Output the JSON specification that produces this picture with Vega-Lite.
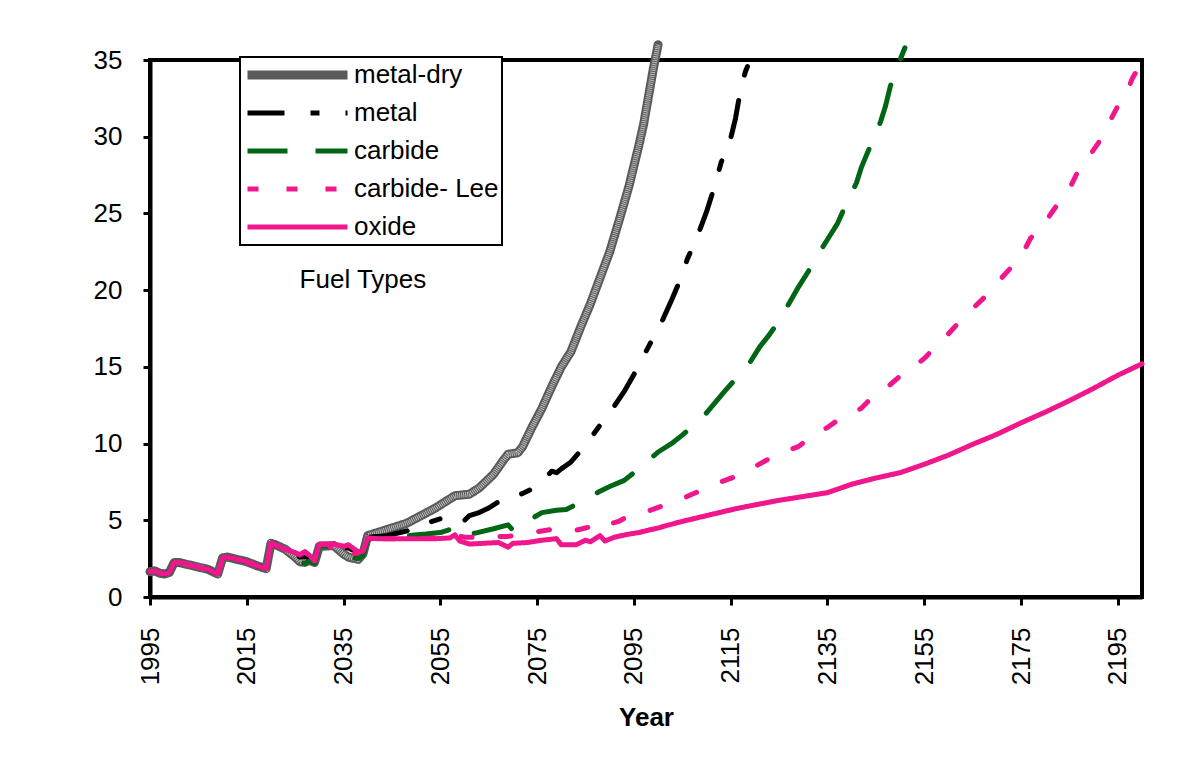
{
  "$schema": "https://vega.github.io/schema/vega-lite/v6.json",
  "width": 992,
  "height": 537,
  "autosize": "none",
  "padding": {"left": 150, "top": 60, "right": 46, "bottom": 173},
  "background": "white",
  "config": {
    "view": {"stroke": "black", "strokeWidth": 4},
    "font": "Liberation Sans",
    "legend": {
      "orient": "none",
      "legendX": 90,
      "legendY": -3,
      "title": null,
      "symbolType": "stroke",
      "symbolSize": 10000,
      "clipHeight": 30,
      "rowPadding": 8,
      "labelFontSize": 26,
      "labelFont": "Liberation Sans",
      "labelColor": "black",
      "labelOffset": 2,
      "padding": 3,
      "strokeColor": "black",
      "strokeWidth": 2,
      "fillColor": "white"
    }
  },
  "data": {"values": [
    {"s":"metal-dry","x":1995,"y":1.65},{"s":"metal-dry","x":1996,"y":1.7},{"s":"metal-dry","x":1997,"y":1.55},{"s":"metal-dry","x":1998,"y":1.5},{"s":"metal-dry","x":1999,"y":1.6},{"s":"metal-dry","x":2000,"y":2.25},{"s":"metal-dry","x":2001,"y":2.25},{"s":"metal-dry","x":2003,"y":2.1},{"s":"metal-dry","x":2005,"y":1.95},{"s":"metal-dry","x":2007,"y":1.8},{"s":"metal-dry","x":2009,"y":1.5},{"s":"metal-dry","x":2010,"y":2.55},{"s":"metal-dry","x":2011,"y":2.6},{"s":"metal-dry","x":2013,"y":2.45},{"s":"metal-dry","x":2015,"y":2.3},{"s":"metal-dry","x":2017,"y":2.05},{"s":"metal-dry","x":2019,"y":1.85},{"s":"metal-dry","x":2020,"y":3.5},{"s":"metal-dry","x":2021,"y":3.4},{"s":"metal-dry","x":2023,"y":3.1},
    {"s":"metal-dry","x":2025,"y":2.6},{"s":"metal-dry","x":2026,"y":2.3},{"s":"metal-dry","x":2027,"y":2.25},{"s":"metal-dry","x":2028,"y":2.4},{"s":"metal-dry","x":2029,"y":2.25},{"s":"metal-dry","x":2030,"y":3.3},{"s":"metal-dry","x":2033,"y":3.35},{"s":"metal-dry","x":2035,"y":2.8},{"s":"metal-dry","x":2036,"y":2.6},{"s":"metal-dry","x":2038,"y":2.45},{"s":"metal-dry","x":2039,"y":2.8},{"s":"metal-dry","x":2040,"y":4.0},
    {"s":"metal-dry","x":2042,"y":4.2},{"s":"metal-dry","x":2045,"y":4.5},{"s":"metal-dry","x":2048,"y":4.8},{"s":"metal-dry","x":2051,"y":5.3},{"s":"metal-dry","x":2054,"y":5.8},{"s":"metal-dry","x":2056,"y":6.2},{"s":"metal-dry","x":2058,"y":6.6},{"s":"metal-dry","x":2061,"y":6.7},{"s":"metal-dry","x":2063,"y":7.1},{"s":"metal-dry","x":2066,"y":8.0},{"s":"metal-dry","x":2068,"y":8.9},{"s":"metal-dry","x":2069,"y":9.3},{"s":"metal-dry","x":2071,"y":9.4},{"s":"metal-dry","x":2072,"y":9.8},{"s":"metal-dry","x":2074,"y":11.1},{"s":"metal-dry","x":2076,"y":12.3},{"s":"metal-dry","x":2078,"y":13.7},{"s":"metal-dry","x":2080,"y":15.0},{"s":"metal-dry","x":2082,"y":16.0},{"s":"metal-dry","x":2084,"y":17.6},{"s":"metal-dry","x":2086,"y":19.1},{"s":"metal-dry","x":2088,"y":20.8},{"s":"metal-dry","x":2090,"y":22.5},{"s":"metal-dry","x":2092,"y":24.6},{"s":"metal-dry","x":2094,"y":26.8},{"s":"metal-dry","x":2096,"y":29.4},{"s":"metal-dry","x":2097,"y":30.8},{"s":"metal-dry","x":2098,"y":32.6},{"s":"metal-dry","x":2099,"y":34.4},{"s":"metal-dry","x":2100,"y":36.0},

    {"s":"metal","x":1995,"y":1.65},{"s":"metal","x":1996,"y":1.7},{"s":"metal","x":1997,"y":1.55},{"s":"metal","x":1998,"y":1.5},{"s":"metal","x":1999,"y":1.6},{"s":"metal","x":2000,"y":2.25},{"s":"metal","x":2001,"y":2.25},{"s":"metal","x":2003,"y":2.1},{"s":"metal","x":2005,"y":1.95},{"s":"metal","x":2007,"y":1.8},{"s":"metal","x":2009,"y":1.5},{"s":"metal","x":2010,"y":2.55},{"s":"metal","x":2011,"y":2.6},{"s":"metal","x":2013,"y":2.45},{"s":"metal","x":2015,"y":2.3},{"s":"metal","x":2017,"y":2.05},{"s":"metal","x":2019,"y":1.85},{"s":"metal","x":2020,"y":3.5},{"s":"metal","x":2021,"y":3.4},{"s":"metal","x":2023,"y":3.1},
    {"s":"metal","x":2025,"y":2.8},{"s":"metal","x":2026,"y":2.6},{"s":"metal","x":2027,"y":2.7},{"s":"metal","x":2028,"y":2.5},{"s":"metal","x":2029,"y":2.3},{"s":"metal","x":2030,"y":3.4},{"s":"metal","x":2033,"y":3.4},{"s":"metal","x":2035,"y":3.2},{"s":"metal","x":2036,"y":3.2},{"s":"metal","x":2038,"y":2.9},{"s":"metal","x":2039,"y":3.0},{"s":"metal","x":2040,"y":3.9},
    {"s":"metal","x":2044,"y":4.0},{"s":"metal","x":2048,"y":4.3},{"s":"metal","x":2051,"y":4.6},{"s":"metal","x":2053,"y":4.9},{"s":"metal","x":2055,"y":5.1},{"s":"metal","x":2058,"y":5.2},{"s":"metal","x":2059,"y":5.0},{"s":"metal","x":2060,"y":5.0},{"s":"metal","x":2061,"y":5.3},{"s":"metal","x":2063,"y":5.5},{"s":"metal","x":2065,"y":5.8},{"s":"metal","x":2067,"y":6.2},{"s":"metal","x":2070,"y":6.5},{"s":"metal","x":2072,"y":6.75},{"s":"metal","x":2074,"y":7.05},{"s":"metal","x":2076,"y":7.5},{"s":"metal","x":2078,"y":8.2},{"s":"metal","x":2079,"y":8.1},{"s":"metal","x":2080,"y":8.35},{"s":"metal","x":2082,"y":8.8},{"s":"metal","x":2085,"y":9.9},{"s":"metal","x":2088,"y":11.2},{"s":"metal","x":2090,"y":12.0},{"s":"metal","x":2093,"y":13.4},{"s":"metal","x":2095,"y":14.5},{"s":"metal","x":2097,"y":15.7},{"s":"metal","x":2099,"y":16.9},{"s":"metal","x":2101,"y":18.1},{"s":"metal","x":2103,"y":19.5},{"s":"metal","x":2105,"y":21.0},{"s":"metal","x":2106,"y":22.0},{"s":"metal","x":2108,"y":23.4},{"s":"metal","x":2110,"y":25.1},{"s":"metal","x":2112,"y":27.1},{"s":"metal","x":2113,"y":28.3},{"s":"metal","x":2115,"y":29.9},{"s":"metal","x":2116,"y":31.2},{"s":"metal","x":2117,"y":33.0},{"s":"metal","x":2118,"y":34.2},{"s":"metal","x":2119,"y":35.0},{"s":"metal","x":2120,"y":35.8},

    {"s":"carbide","x":1995,"y":1.65},{"s":"carbide","x":1996,"y":1.7},{"s":"carbide","x":1997,"y":1.55},{"s":"carbide","x":1998,"y":1.5},{"s":"carbide","x":1999,"y":1.6},{"s":"carbide","x":2000,"y":2.25},{"s":"carbide","x":2001,"y":2.25},{"s":"carbide","x":2003,"y":2.1},{"s":"carbide","x":2005,"y":1.95},{"s":"carbide","x":2007,"y":1.8},{"s":"carbide","x":2009,"y":1.5},{"s":"carbide","x":2010,"y":2.55},{"s":"carbide","x":2011,"y":2.6},{"s":"carbide","x":2013,"y":2.45},{"s":"carbide","x":2015,"y":2.3},{"s":"carbide","x":2017,"y":2.05},{"s":"carbide","x":2019,"y":1.85},{"s":"carbide","x":2020,"y":3.5},{"s":"carbide","x":2021,"y":3.4},{"s":"carbide","x":2023,"y":3.1},
    {"s":"carbide","x":2025,"y":2.5},{"s":"carbide","x":2026,"y":2.25},{"s":"carbide","x":2027,"y":2.2},{"s":"carbide","x":2028,"y":2.35},{"s":"carbide","x":2029,"y":2.2},{"s":"carbide","x":2030,"y":3.3},{"s":"carbide","x":2032,"y":3.3},{"s":"carbide","x":2033,"y":3.1},{"s":"carbide","x":2035,"y":2.7},{"s":"carbide","x":2036,"y":2.6},{"s":"carbide","x":2038,"y":2.5},{"s":"carbide","x":2039,"y":2.7},{"s":"carbide","x":2040,"y":3.8},
    {"s":"carbide","x":2044,"y":3.85},{"s":"carbide","x":2048,"y":4.0},{"s":"carbide","x":2052,"y":4.1},{"s":"carbide","x":2055,"y":4.2},{"s":"carbide","x":2057,"y":4.4},{"s":"carbide","x":2059,"y":4.55},{"s":"carbide","x":2060,"y":4.2},{"s":"carbide","x":2062,"y":4.15},{"s":"carbide","x":2066,"y":4.45},{"s":"carbide","x":2069,"y":4.7},{"s":"carbide","x":2070,"y":4.35},{"s":"carbide","x":2073,"y":4.95},{"s":"carbide","x":2076,"y":5.5},{"s":"carbide","x":2079,"y":5.65},{"s":"carbide","x":2081,"y":5.7},{"s":"carbide","x":2085,"y":6.35},{"s":"carbide","x":2088,"y":6.9},{"s":"carbide","x":2090,"y":7.2},{"s":"carbide","x":2093,"y":7.6},{"s":"carbide","x":2096,"y":8.35},{"s":"carbide","x":2098,"y":8.9},{"s":"carbide","x":2100,"y":9.45},{"s":"carbide","x":2103,"y":10.05},{"s":"carbide","x":2105,"y":10.55},{"s":"carbide","x":2108,"y":11.4},{"s":"carbide","x":2110,"y":12.0},{"s":"carbide","x":2112,"y":12.75},{"s":"carbide","x":2114,"y":13.5},{"s":"carbide","x":2116,"y":14.2},{"s":"carbide","x":2119,"y":15.3},{"s":"carbide","x":2121,"y":16.3},{"s":"carbide","x":2123,"y":17.1},{"s":"carbide","x":2125,"y":18.0},{"s":"carbide","x":2127,"y":19.1},{"s":"carbide","x":2129,"y":20.2},{"s":"carbide","x":2131,"y":21.2},{"s":"carbide","x":2133,"y":22.3},{"s":"carbide","x":2135,"y":23.3},{"s":"carbide","x":2137,"y":24.3},{"s":"carbide","x":2139,"y":25.7},{"s":"carbide","x":2141,"y":27.0},{"s":"carbide","x":2142,"y":28.0},{"s":"carbide","x":2144,"y":29.5},{"s":"carbide","x":2146,"y":31.0},{"s":"carbide","x":2147,"y":32.0},{"s":"carbide","x":2148,"y":33.3},{"s":"carbide","x":2150,"y":35.0},{"s":"carbide","x":2151,"y":35.8},

    {"s":"carbide- Lee","x":1995,"y":1.65},{"s":"carbide- Lee","x":1996,"y":1.7},{"s":"carbide- Lee","x":1997,"y":1.55},{"s":"carbide- Lee","x":1998,"y":1.5},{"s":"carbide- Lee","x":1999,"y":1.6},{"s":"carbide- Lee","x":2000,"y":2.25},{"s":"carbide- Lee","x":2001,"y":2.25},{"s":"carbide- Lee","x":2003,"y":2.1},{"s":"carbide- Lee","x":2005,"y":1.95},{"s":"carbide- Lee","x":2007,"y":1.8},{"s":"carbide- Lee","x":2009,"y":1.5},{"s":"carbide- Lee","x":2010,"y":2.55},{"s":"carbide- Lee","x":2011,"y":2.6},{"s":"carbide- Lee","x":2013,"y":2.45},{"s":"carbide- Lee","x":2015,"y":2.3},{"s":"carbide- Lee","x":2017,"y":2.05},{"s":"carbide- Lee","x":2019,"y":1.85},{"s":"carbide- Lee","x":2020,"y":3.5},{"s":"carbide- Lee","x":2021,"y":3.4},{"s":"carbide- Lee","x":2023,"y":3.1},
    {"s":"carbide- Lee","x":2025,"y":2.9},{"s":"carbide- Lee","x":2026,"y":2.75},{"s":"carbide- Lee","x":2027,"y":2.95},{"s":"carbide- Lee","x":2028,"y":2.7},{"s":"carbide- Lee","x":2029,"y":2.35},{"s":"carbide- Lee","x":2030,"y":3.45},{"s":"carbide- Lee","x":2032,"y":3.4},{"s":"carbide- Lee","x":2033,"y":2.9},{"s":"carbide- Lee","x":2035,"y":2.65},{"s":"carbide- Lee","x":2036,"y":2.75},{"s":"carbide- Lee","x":2038,"y":2.9},{"s":"carbide- Lee","x":2039,"y":3.0},{"s":"carbide- Lee","x":2040,"y":3.85},
    {"s":"carbide- Lee","x":2042,"y":3.8},{"s":"carbide- Lee","x":2046,"y":3.8},{"s":"carbide- Lee","x":2050,"y":3.8},{"s":"carbide- Lee","x":2054,"y":3.85},{"s":"carbide- Lee","x":2057,"y":3.9},{"s":"carbide- Lee","x":2058,"y":4.05},{"s":"carbide- Lee","x":2060,"y":3.9},{"s":"carbide- Lee","x":2063,"y":3.9},{"s":"carbide- Lee","x":2066,"y":3.95},{"s":"carbide- Lee","x":2069,"y":3.95},{"s":"carbide- Lee","x":2071,"y":4.05},{"s":"carbide- Lee","x":2074,"y":4.2},{"s":"carbide- Lee","x":2076,"y":4.3},{"s":"carbide- Lee","x":2079,"y":4.45},{"s":"carbide- Lee","x":2081,"y":4.3},{"s":"carbide- Lee","x":2083,"y":4.35},{"s":"carbide- Lee","x":2085,"y":4.5},{"s":"carbide- Lee","x":2087,"y":4.65},{"s":"carbide- Lee","x":2089,"y":4.95},{"s":"carbide- Lee","x":2090,"y":4.75},{"s":"carbide- Lee","x":2092,"y":4.95},{"s":"carbide- Lee","x":2094,"y":5.3},{"s":"carbide- Lee","x":2096,"y":5.5},{"s":"carbide- Lee","x":2098,"y":5.6},{"s":"carbide- Lee","x":2101,"y":5.95},{"s":"carbide- Lee","x":2103,"y":6.25},{"s":"carbide- Lee","x":2105,"y":6.4},{"s":"carbide- Lee","x":2107,"y":6.7},{"s":"carbide- Lee","x":2109,"y":6.95},{"s":"carbide- Lee","x":2111,"y":7.25},{"s":"carbide- Lee","x":2113,"y":7.5},{"s":"carbide- Lee","x":2116,"y":7.85},{"s":"carbide- Lee","x":2118,"y":8.15},{"s":"carbide- Lee","x":2120,"y":8.5},{"s":"carbide- Lee","x":2122,"y":8.85},{"s":"carbide- Lee","x":2124,"y":9.2},{"s":"carbide- Lee","x":2126,"y":9.45},{"s":"carbide- Lee","x":2129,"y":9.8},{"s":"carbide- Lee","x":2131,"y":10.3},{"s":"carbide- Lee","x":2133,"y":10.7},{"s":"carbide- Lee","x":2135,"y":11.05},{"s":"carbide- Lee","x":2137,"y":11.5},{"s":"carbide- Lee","x":2140,"y":11.95},{"s":"carbide- Lee","x":2142,"y":12.3},{"s":"carbide- Lee","x":2144,"y":12.95},{"s":"carbide- Lee","x":2146,"y":13.4},{"s":"carbide- Lee","x":2148,"y":13.85},{"s":"carbide- Lee","x":2150,"y":14.4},{"s":"carbide- Lee","x":2152,"y":14.8},{"s":"carbide- Lee","x":2155,"y":15.55},{"s":"carbide- Lee","x":2157,"y":16.2},{"s":"carbide- Lee","x":2159,"y":16.8},{"s":"carbide- Lee","x":2161,"y":17.5},{"s":"carbide- Lee","x":2163,"y":18.2},{"s":"carbide- Lee","x":2165,"y":18.8},{"s":"carbide- Lee","x":2167,"y":19.4},{"s":"carbide- Lee","x":2169,"y":20.0},{"s":"carbide- Lee","x":2171,"y":20.8},{"s":"carbide- Lee","x":2173,"y":21.5},{"s":"carbide- Lee","x":2175,"y":22.2},{"s":"carbide- Lee","x":2177,"y":23.4},{"s":"carbide- Lee","x":2179,"y":23.95},{"s":"carbide- Lee","x":2181,"y":24.9},{"s":"carbide- Lee","x":2183,"y":25.8},{"s":"carbide- Lee","x":2185,"y":26.6},{"s":"carbide- Lee","x":2187,"y":27.9},{"s":"carbide- Lee","x":2189,"y":28.7},{"s":"carbide- Lee","x":2191,"y":29.6},{"s":"carbide- Lee","x":2193,"y":30.8},{"s":"carbide- Lee","x":2195,"y":32.0},{"s":"carbide- Lee","x":2197,"y":33.0},{"s":"carbide- Lee","x":2198,"y":33.8},{"s":"carbide- Lee","x":2200,"y":34.9},

    {"s":"oxide","x":1995,"y":1.65},{"s":"oxide","x":1996,"y":1.7},{"s":"oxide","x":1997,"y":1.55},{"s":"oxide","x":1998,"y":1.5},{"s":"oxide","x":1999,"y":1.6},{"s":"oxide","x":2000,"y":2.25},{"s":"oxide","x":2001,"y":2.25},{"s":"oxide","x":2003,"y":2.1},{"s":"oxide","x":2005,"y":1.95},{"s":"oxide","x":2007,"y":1.8},{"s":"oxide","x":2009,"y":1.5},{"s":"oxide","x":2010,"y":2.55},{"s":"oxide","x":2011,"y":2.6},{"s":"oxide","x":2013,"y":2.45},{"s":"oxide","x":2015,"y":2.3},{"s":"oxide","x":2017,"y":2.05},{"s":"oxide","x":2019,"y":1.85},{"s":"oxide","x":2020,"y":3.5},{"s":"oxide","x":2021,"y":3.4},{"s":"oxide","x":2023,"y":3.1},
    {"s":"oxide","x":2025,"y":2.9},{"s":"oxide","x":2026,"y":2.75},{"s":"oxide","x":2027,"y":2.95},{"s":"oxide","x":2028,"y":2.7},{"s":"oxide","x":2029,"y":2.35},{"s":"oxide","x":2030,"y":3.45},{"s":"oxide","x":2032,"y":3.45},{"s":"oxide","x":2033,"y":3.45},{"s":"oxide","x":2035,"y":3.3},{"s":"oxide","x":2036,"y":3.4},{"s":"oxide","x":2038,"y":2.95},{"s":"oxide","x":2039,"y":3.0},{"s":"oxide","x":2040,"y":3.85},
    {"s":"oxide","x":2042,"y":3.8},{"s":"oxide","x":2046,"y":3.8},{"s":"oxide","x":2050,"y":3.8},{"s":"oxide","x":2054,"y":3.8},{"s":"oxide","x":2057,"y":3.85},{"s":"oxide","x":2058,"y":4.05},{"s":"oxide","x":2059,"y":3.65},{"s":"oxide","x":2061,"y":3.45},{"s":"oxide","x":2064,"y":3.5},{"s":"oxide","x":2067,"y":3.55},{"s":"oxide","x":2069,"y":3.25},{"s":"oxide","x":2070,"y":3.5},{"s":"oxide","x":2073,"y":3.55},{"s":"oxide","x":2076,"y":3.7},{"s":"oxide","x":2079,"y":3.8},{"s":"oxide","x":2080,"y":3.4},{"s":"oxide","x":2083,"y":3.4},{"s":"oxide","x":2085,"y":3.7},{"s":"oxide","x":2086,"y":3.6},{"s":"oxide","x":2088,"y":4.0},{"s":"oxide","x":2089,"y":3.65},{"s":"oxide","x":2091,"y":3.9},{"s":"oxide","x":2094,"y":4.1},{"s":"oxide","x":2096,"y":4.2},{"s":"oxide","x":2100,"y":4.5},{"s":"oxide","x":2104,"y":4.85},{"s":"oxide","x":2108,"y":5.15},{"s":"oxide","x":2112,"y":5.45},{"s":"oxide","x":2116,"y":5.75},{"s":"oxide","x":2120,"y":6.0},{"s":"oxide","x":2125,"y":6.3},{"s":"oxide","x":2130,"y":6.55},{"s":"oxide","x":2135,"y":6.8},{"s":"oxide","x":2140,"y":7.35},{"s":"oxide","x":2145,"y":7.75},{"s":"oxide","x":2150,"y":8.1},{"s":"oxide","x":2155,"y":8.65},{"s":"oxide","x":2160,"y":9.25},{"s":"oxide","x":2165,"y":9.95},{"s":"oxide","x":2170,"y":10.6},{"s":"oxide","x":2175,"y":11.35},{"s":"oxide","x":2180,"y":12.05},{"s":"oxide","x":2185,"y":12.8},{"s":"oxide","x":2190,"y":13.6},{"s":"oxide","x":2195,"y":14.45},{"s":"oxide","x":2200,"y":15.2}
  ]},
  "encoding": {
    "x": {
      "field": "x", "type": "quantitative",
      "scale": {"domain": [1995, 2200], "nice": false, "zero": false},
      "axis": {
        "values": [1995, 2015, 2035, 2055, 2075, 2095, 2115, 2135, 2155, 2175, 2195],
        "format": "d", "labelAngle": -90, "labelFontSize": 26, "labelFont": "Liberation Sans",
        "labelColor": "black", "labelFlush": false, "labelOverlap": false,
        "tickSize": 8, "tickWidth": 3, "tickColor": "black",
        "domainColor": "black", "domainWidth": 4, "labelPadding": 22, "grid": false,
        "title": "Year", "titleFontSize": 26, "titleFontWeight": "bold", "titleFont": "Liberation Sans",
        "titleColor": "black", "titlePadding": 20
      }
    },
    "y": {
      "field": "y", "type": "quantitative",
      "scale": {"domain": [0, 35], "nice": false},
      "axis": {
        "values": [0, 5, 10, 15, 20, 25, 30, 35],
        "labelFontSize": 26, "labelFont": "Liberation Sans", "labelColor": "black",
        "labelFlush": false, "tickSize": 7, "tickWidth": 3, "tickColor": "black",
        "domainColor": "black", "domainWidth": 4, "labelPadding": 21, "grid": false, "title": null
      }
    },
    "color": {
      "field": "s", "type": "nominal",
      "scale": {"domain": ["metal-dry", "metal", "carbide", "carbide- Lee", "oxide"],
                "range": ["#5a5a5a", "#000000", "#006614", "#f0168c", "#f0168c"]}
    },
    "strokeDash": {
      "field": "s", "type": "nominal",
      "scale": {"domain": ["metal-dry", "metal", "carbide", "carbide- Lee", "oxide"],
                "range": [[1, 0], [37, 26, 9, 26], [40, 28], [11, 28], [1, 0]]}
    },
    "strokeWidth": {
      "field": "s", "type": "nominal",
      "scale": {"type": "ordinal", "domain": ["metal-dry", "metal", "carbide", "carbide- Lee", "oxide"],
                "range": [9, 5, 5, 5, 5]}
    }
  },
  "layer": [
    {
      "transform": [{"filter": "datum.s === 'metal-dry'"}],
      "mark": {"type": "line", "clip": false, "strokeCap": "round", "strokeJoin": "round"}
    },
    {
      "transform": [{"filter": "datum.s === 'metal-dry'"}],
      "mark": {"type": "line", "clip": false, "opacity": 0.6},
      "encoding": {
        "color": {"value": "white"},
        "strokeDash": {"value": [1, 1]},
        "strokeWidth": {"value": 5}
      }
    },
    {
      "transform": [{"filter": "datum.s !== 'metal-dry'"}],
      "mark": {"type": "line", "clip": false, "strokeCap": "round", "strokeJoin": "round"}
    },
    {
      "data": {"values": [{"t": "Fuel Types", "x": 2039, "y": 20.65}]},
      "mark": {"type": "text", "fontSize": 26, "font": "Liberation Sans"},
      "encoding": {
        "color": {"value": "black"},
        "strokeDash": {"value": [1, 0]},
        "strokeWidth": {"value": 0},
        "text": {"field": "t"}
      }
    }
  ]
}
